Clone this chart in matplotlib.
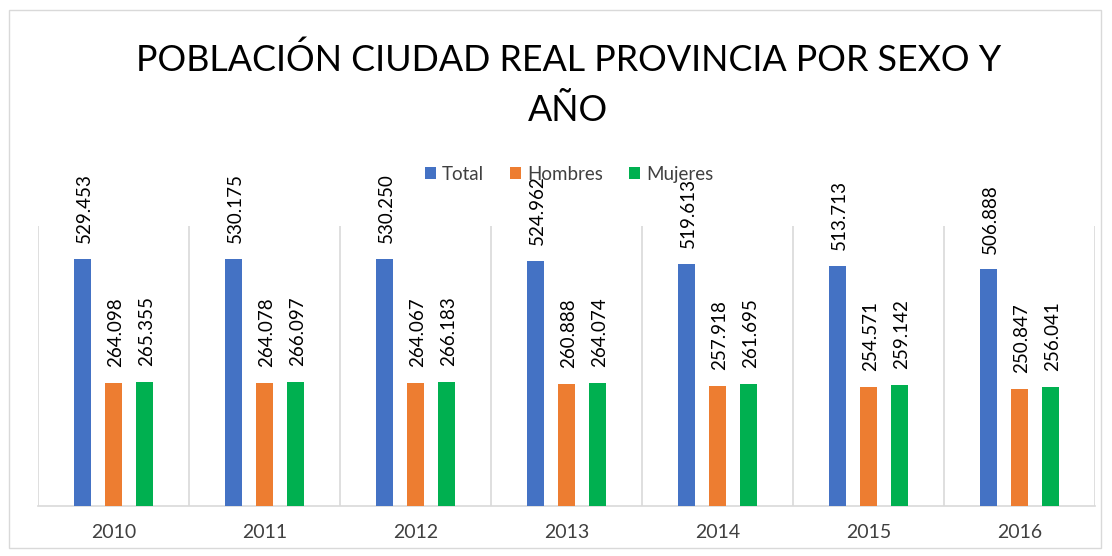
import matplotlib.pyplot as plt
import numpy as np

plt.rcParams['font.family'] = ['Lato', 'DejaVu Sans']

# data
years = ["2010", "2011", "2012", "2013", "2014", "2015", "2016"]
total = [529453, 530175, 530250, 524962, 519613, 513713, 506888]
hombres = [264098, 264078, 264067, 260888, 257918, 254571, 250847]
mujeres = [265355, 266097, 266183, 264074, 261695, 259142, 256041]

series = [("Total", total, "#4472C4"),
          ("Hombres", hombres, "#ED7D31"),
          ("Mujeres", mujeres, "#00B050")]


def fmt(v):
    # spanish thousands separator
    return f"{v:,}".replace(",", ".")


fig = plt.figure(figsize=(11.12, 5.56), dpi=100)
# outer chart border
fig.patches.append(plt.Rectangle((9 / 1112, 8 / 556), 1092 / 1112, 538 / 556,
                                 transform=fig.transFigure, fill=False,
                                 edgecolor="#D9D9D9", linewidth=1))

ax = fig.add_axes([38 / 1112, 50 / 556, 1057 / 1112, 280 / 556])

x = np.arange(len(years))
offsets = [-0.205, 0, 0.205]
width = 0.108
for (name, vals, color), off in zip(series, offsets):
    bars = ax.bar(x + off, vals, width, color=color, label=name, zorder=3)
    for b, v in zip(bars, vals):
        ax.text(b.get_x() + b.get_width() / 2 + 0.015, v + 34000, fmt(v),
                rotation=90, ha="center", va="bottom", fontsize=13.5,
                color="#000000")

ax.set_ylim(0, 600000)
ax.set_xlim(-0.5, len(years) - 0.5)
ax.set_yticks([])
ax.set_xticks(x)
ax.set_xticklabels(years, fontsize=14, color="#404040")
ax.tick_params(axis="x", length=0, pad=13)

# category separators
for s in np.arange(-0.5, len(years), 1.0):
    ax.axvline(s, color="#D9D9D9", linewidth=1.2, zorder=1)

for side in ["top", "right", "left"]:
    ax.spines[side].set_visible(False)
ax.spines["bottom"].set_color("#D9D9D9")
ax.spines["bottom"].set_linewidth(1.2)

fig.text(0.511, 1 - 85 / 556, "POBLACIÓN CIUDAD REAL PROVINCIA POR SEXO Y\nAÑO",
         ha="center", va="center", fontsize=25.8, linespacing=1.62)

ax.legend(loc="center", bbox_to_anchor=(569 / 1112, 1 - 174 / 556),
          bbox_transform=fig.transFigure, ncol=3, frameon=False,
          fontsize=13.5, handlelength=0.6, handleheight=0.6,
          handletextpad=0.3, columnspacing=1.4, labelcolor="#404040")

fig.savefig("out.png", dpi=100)
